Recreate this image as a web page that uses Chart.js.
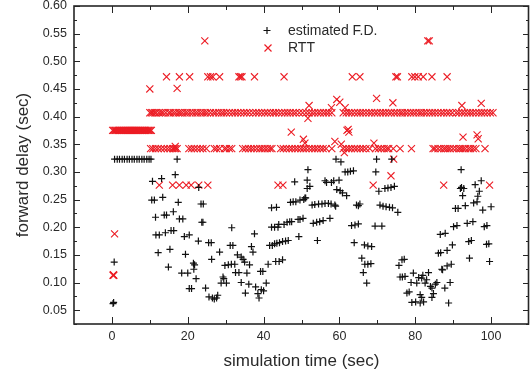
<!DOCTYPE html>
<html>
<head>
<meta charset="utf-8">
<script src="https://cdn.jsdelivr.net/npm/chart.js@4/dist/chart.umd.min.js"></script>
<style>
html, body { margin: 0; padding: 0; background: #fff; overflow: hidden; }
canvas { display: block; }
</style>
</head>
<body>
<canvas id="delayChart" width="530" height="377"></canvas>
<script>
// estimated forward delay (black +)
const fdTime = [
    0.3, 0.45, 0.6,
    0.7, 1.4, 2.0, 2.7, 3.3, 4.0, 4.6, 5.3, 5.9, 6.6, 7.2, 7.9, 8.5, 9.2, 9.8, 10.3,
    10.7, 13.1, 16.7, 17.2, 10.5, 11.2, 13.4, 17.5, 23.5, 24.1, 11.5, 13.8, 14.4, 16.2, 17.8, 18.7, 23.7,
    11.6, 12.5, 14.1, 15.6, 16.3, 19.1, 20.4, 22.8, 12.2, 15.3, 19.4, 21.5, 21.8, 14.9, 21.6, 18.4, 20.0,
    22.2, 20.4, 21.0, 22.9,
    24.7, 25.5, 26.2, 26.3, 24.0, 25.6, 26.5, 27.0, 27.6, 27.9, 28.4, 29.8, 30.7, 31.5, 32.4, 29.3, 29.5,
    28.8, 30.2, 31.6, 31.2, 31.9, 33.1, 34.1, 34.6, 35.0, 36.3, 32.6, 33.5, 35.6, 34.1, 36.1, 35.2, 37.6,
    36.8, 37.2, 39.2, 39.8, 37.9, 39.4, 40.0, 38.5, 38.8,
    40.7, 41.2, 41.6, 42.3, 42.1, 42.9, 43.8, 43.2, 44.1, 45.0, 42.1, 43.4, 42.9, 43.5, 44.2, 45.0, 45.8,
    46.5, 44.0, 45.4, 46.2, 46.9, 47.4, 49.1, 49.6, 50.4, 49.3, 47.1, 47.8, 48.5, 49.6, 50.6, 51.1, 48.2,
    51.5, 51.5, 52.2, 51.7, 50.9,
    52.8, 53.5, 54.5, 55.4, 56.2, 57.1, 57.8, 58.8, 59.0, 53.1, 54.0, 54.8, 55.7, 57.5, 54.2, 56.2, 56.6,
    57.9, 58.5, 59.9, 59.3, 60.2, 60.8, 61.9, 61.5, 62.2, 62.9, 63.7, 59.1, 60.4,
    65.0, 64.5, 65.4, 63.2, 64.1, 65.0, 63.9, 66.6, 67.5, 68.5, 65.9, 66.7, 67.5, 68.3, 66.3, 67.2,
    69.6, 69.8, 73.8, 70.4, 70.7, 71.5, 72.3, 73.2, 74.0, 75.4, 72.0, 72.8, 73.6, 74.5, 69.4, 71.2, 75.7,
    76.5, 77.1, 76.0, 76.6, 77.3, 78.9, 79.5, 77.8, 78.4, 79.1,
    80.4, 80.9, 81.7, 82.6, 81.3, 81.7, 82.2, 80.1, 81.3, 83.5, 84.0, 84.4, 84.8, 84.4, 85.3, 85.7, 86.1,
    86.7, 88.4, 87.2, 87.8, 88.8, 89.2, 89.5, 86.6, 87.9, 89.8, 87.0, 88.4, 82.0, 83.0,
    90.1, 91.0, 90.6, 91.3, 93.2, 92.1, 91.9, 92.8, 92.5, 93.7, 95.2, 94.1, 94.8, 94.3, 95.4, 96.3, 95.8,
    97.4, 96.9, 96.5, 97.8, 100.0, 98.2, 98.9, 98.8, 99.4, 99.6, 92.2
];
const fdDelay = [
    0.062, 0.064, 0.137,
    0.323, 0.323, 0.323, 0.323, 0.323, 0.323, 0.323, 0.323, 0.323, 0.323, 0.323, 0.323, 0.323, 0.323, 0.323, 0.323,
    0.283, 0.288, 0.295, 0.323, 0.249, 0.249, 0.254, 0.245, 0.242, 0.242, 0.218, 0.222, 0.222, 0.228, 0.215, 0.215, 0.209,
    0.186, 0.186, 0.190, 0.194, 0.194, 0.183, 0.186, 0.175, 0.154, 0.160, 0.151, 0.135, 0.132, 0.128, 0.124, 0.117, 0.117,
    0.107, 0.089, 0.089, 0.272,
    0.090, 0.172, 0.172, 0.142, 0.209, 0.074, 0.072, 0.070, 0.072, 0.077, 0.155, 0.131, 0.132, 0.133, 0.133, 0.110, 0.107,
    0.099, 0.099, 0.199, 0.167, 0.167, 0.150, 0.146, 0.142, 0.137, 0.132, 0.118, 0.118, 0.117, 0.100, 0.097, 0.081, 0.188,
    0.165, 0.155, 0.120, 0.120, 0.092, 0.087, 0.085, 0.080, 0.072,
    0.099, 0.133, 0.167, 0.167, 0.200, 0.200, 0.200, 0.138, 0.138, 0.141, 0.235, 0.236, 0.170, 0.171, 0.172, 0.174, 0.175,
    0.176, 0.205, 0.205, 0.209, 0.210, 0.210, 0.214, 0.214, 0.216, 0.183, 0.245, 0.246, 0.246, 0.249, 0.250, 0.253, 0.282,
    0.285, 0.270, 0.274, 0.304, 0.253,
    0.240, 0.241, 0.242, 0.242, 0.243, 0.243, 0.242, 0.240, 0.238, 0.207, 0.209, 0.210, 0.212, 0.216, 0.176, 0.284, 0.281,
    0.281, 0.284, 0.285, 0.268, 0.266, 0.262, 0.257, 0.300, 0.300, 0.301, 0.302, 0.323, 0.318,
    0.239, 0.240, 0.242, 0.203, 0.204, 0.206, 0.172, 0.168, 0.166, 0.165, 0.144, 0.133, 0.133, 0.134, 0.118, 0.099,
    0.300, 0.323, 0.323, 0.265, 0.240, 0.238, 0.237, 0.236, 0.235, 0.227, 0.270, 0.271, 0.272, 0.274, 0.202, 0.202, 0.131,
    0.141, 0.142, 0.110, 0.110, 0.111, 0.100, 0.117, 0.081, 0.083, 0.064,
    0.099, 0.109, 0.108, 0.099, 0.078, 0.073, 0.065, 0.065, 0.063, 0.118, 0.093, 0.090, 0.080, 0.073, 0.097, 0.100, 0.153,
    0.154, 0.158, 0.123, 0.090, 0.063, 0.100, 0.133, 0.187, 0.189, 0.168, 0.124, 0.130, 0.113, 0.105,
    0.201, 0.203, 0.234, 0.234, 0.239, 0.304, 0.270, 0.270, 0.257, 0.207, 0.210, 0.174, 0.176, 0.144, 0.244, 0.246, 0.277,
    0.284, 0.265, 0.256, 0.231, 0.237, 0.201, 0.203, 0.169, 0.170, 0.138, 0.272
];

// RTT (red x): samples sit on a few delay levels, listed per level
const rttStartTime = [
    0.2, 0.5, 0.8, 1.0, 1.3, 1.6, 1.9, 2.1, 2.4, 2.7, 3.0, 3.2, 3.5, 3.8, 4.1, 4.3, 4.6, 4.9, 5.2, 5.4,
    5.7, 6.0, 6.3, 6.5, 6.8, 7.1, 7.4, 7.6, 7.9, 8.2, 8.5, 8.7, 9.0, 9.3, 9.6, 9.8, 10.1, 10.4
];
const rttStartLevel = 0.375;
const rttLevel407 = [
    10.0, 10.4, 10.8, 11.3, 11.7, 12.4, 13.0, 13.5, 14.2, 15.0, 15.5, 16.2, 16.8, 17.5, 18.0, 18.6, 19.3, 19.9,
    20.6, 21.3, 22.0, 22.6, 23.3, 24.0, 24.6, 25.2, 26.0, 26.8, 27.4, 28.2, 28.9, 29.5, 30.2, 31.0, 31.8, 32.5,
    33.2, 34.0, 34.8, 35.5, 36.3, 37.2, 38.0, 38.7, 39.5, 40.3, 41.0, 41.8, 42.6, 43.2, 44.0, 44.8, 45.6, 46.3,
    47.0, 47.8, 48.5, 49.4, 50.3, 51.2, 52.0, 52.8, 53.5, 54.3, 55.0, 55.8, 56.5, 57.2, 58.0, 61.0, 61.8, 62.5,
    63.2, 64.0, 64.8, 65.5, 66.2, 67.0, 67.8, 68.5, 69.3, 70.0, 70.8, 71.5, 72.2, 73.0, 73.7, 74.5, 75.2, 76.0,
    76.6, 77.3, 78.0, 78.8, 79.5, 80.2, 81.0, 81.6, 82.3, 83.0, 83.8, 84.5, 85.2, 86.0, 86.8, 87.5, 88.3, 89.0,
    89.8, 90.8, 91.5, 92.3, 93.0, 93.8, 94.5, 95.2, 96.0, 96.8, 97.5, 98.2, 99.0, 99.8, 100.5
];
const rttLevel342 = [
    10.2, 10.8, 11.5, 12.2, 13.0, 13.8, 14.6, 15.3, 16.0, 16.4, 16.8, 17.2, 20.3, 21.0, 21.7, 22.5, 23.3, 24.0,
    24.9, 27.0, 27.6, 28.4, 29.7, 30.2, 31.0, 31.6, 34.5, 35.2, 36.0, 36.7, 37.4, 38.2, 39.0, 39.6, 40.3, 41.0,
    41.7, 42.2, 44.5, 45.2, 46.0, 46.8, 47.5, 48.3, 49.0, 49.8, 50.5, 51.2, 52.0, 52.8, 53.5, 54.2, 55.0, 55.7,
    56.5, 58.0, 61.0, 61.8, 62.5, 63.2, 64.0, 64.7, 65.5, 66.2, 67.0, 68.0, 69.5, 70.3, 71.0, 71.8, 72.5, 73.0,
    74.2, 76.0, 79.0, 84.7, 85.2, 86.0, 86.8, 87.5, 88.0, 88.6, 89.2, 90.0, 90.8, 91.5, 92.0, 92.6, 93.2, 94.0,
    94.6, 95.3, 96.0, 98.4
];
const rttLevel472 = [
    14.4, 17.8, 20.5, 25.3, 26.0, 26.6, 28.4, 33.5, 33.9, 34.3, 37.6, 45.4, 63.4, 65.4, 74.9, 75.3, 79.1, 79.9,
    80.8, 82.1, 84.4, 88.4
];
const rttLevel276 = [12.5, 16.0, 17.8, 19.6, 20.9, 22.9, 25.3, 43.8, 45.1, 68.9, 87.5, 99.6];
const rttLevel537 = [24.5, 83.3, 83.7];
const rttOtherTime = [
    0.3, 0.4, 0.5, 0.7, 10.0, 17.2, 16.7, 47.3, 50.5, 50.9, 51.7, 52.0, 57.9, 58.8, 59.3, 60.1, 60.5,
    61.3, 61.5, 62.0, 62.3, 62.5, 69.1, 69.8, 73.6, 74.1, 74.3, 92.3, 92.6, 96.3, 96.6, 97.4
];
const rttOtherDelay = [
    0.113, 0.114, 0.113, 0.188, 0.450, 0.451, 0.346, 0.372, 0.359, 0.352, 0.397, 0.420, 0.416, 0.355, 0.431, 0.426, 0.350,
    0.335, 0.416, 0.375, 0.377, 0.372, 0.352, 0.433, 0.293, 0.425, 0.323, 0.420, 0.363, 0.367, 0.360, 0.424
];

const xTickValues = [0, 20, 40, 60, 80, 100];
const xTickLabels = ['0', '20', '40', '60', '80', '100'];
const xMinorValues = [10, 30, 50, 70, 90];
const yTickValues = [0.05, 0.10, 0.15, 0.20, 0.25, 0.30, 0.35, 0.40, 0.45, 0.50, 0.55, 0.60];
const yTickLabels = ['0.05', '0.10', '0.15', '0.20', '0.25', '0.30', '0.35', '0.40', '0.45', '0.50', '0.55', '0.60'];
const yMinorValues = [0.025, 0.075, 0.125, 0.175, 0.225, 0.275, 0.325, 0.375, 0.425, 0.475, 0.525, 0.575];

const seriesNames = ['estimated F.D.', 'RTT'];
const fdColor = '#111111';
const rttColor = '#ec1c24';
const textColor = '#2a2a2a';
const axisColor = '#262626';
const fontFamily = '"Liberation Sans", Arial, Helvetica, sans-serif';

const fdPoints = fdTime.map((t, i) => ({ x: t, y: fdDelay[i] }));
const rttPoints = [];
rttStartTime.forEach(t => rttPoints.push({ x: t, y: rttStartLevel }));
rttLevel276.forEach(t => rttPoints.push({ x: t, y: 0.276 }));
rttLevel342.forEach(t => rttPoints.push({ x: t, y: 0.342 }));
rttLevel407.forEach(t => rttPoints.push({ x: t, y: 0.407 }));
rttLevel472.forEach(t => rttPoints.push({ x: t, y: 0.472 }));
rttLevel537.forEach(t => rttPoints.push({ x: t, y: 0.537 }));
rttOtherTime.forEach((t, i) => rttPoints.push({ x: t, y: rttOtherDelay[i] }));

// frame with inward ticks on all four sides
const framePlugin = {
    id: 'frame',
    afterDatasetsDraw(chart) {
        const { ctx, chartArea: a, scales: { x, y } } = chart;
        ctx.save();
        ctx.strokeStyle = axisColor;
        ctx.lineWidth = 1;
        ctx.beginPath();
        xTickValues.forEach(v => {
            const px = Math.round(x.getPixelForValue(v)) + 0.5;
            ctx.moveTo(px, a.bottom); ctx.lineTo(px, a.bottom - 7);
            ctx.moveTo(px, a.top); ctx.lineTo(px, a.top + 7);
        });
        xMinorValues.forEach(v => {
            const px = Math.round(x.getPixelForValue(v)) + 0.5;
            ctx.moveTo(px, a.bottom); ctx.lineTo(px, a.bottom - 4);
            ctx.moveTo(px, a.top); ctx.lineTo(px, a.top + 4);
        });
        yTickValues.forEach(v => {
            const py = Math.round(y.getPixelForValue(v)) + 0.5;
            ctx.moveTo(a.left, py); ctx.lineTo(a.left + 6, py);
            ctx.moveTo(a.right, py); ctx.lineTo(a.right - 6, py);
        });
        yMinorValues.forEach(v => {
            const py = Math.round(y.getPixelForValue(v)) + 0.5;
            ctx.moveTo(a.left, py); ctx.lineTo(a.left + 3, py);
            ctx.moveTo(a.right, py); ctx.lineTo(a.right - 3, py);
        });
        ctx.stroke();
        ctx.lineWidth = 1.6;
        ctx.strokeRect(a.left, a.top, a.right - a.left - 0.5, a.bottom - a.top);
        ctx.restore();
    }
};

// legend drawn inside the plot, top middle
const legendPlugin = {
    id: 'innerLegend',
    afterDraw(chart) {
        const ctx = chart.ctx;
        ctx.save();
        ctx.lineWidth = 1.2;
        ctx.strokeStyle = fdColor;
        ctx.beginPath();
        ctx.moveTo(263.5, 30.5); ctx.lineTo(270.5, 30.5);
        ctx.moveTo(267, 27); ctx.lineTo(267, 34);
        ctx.stroke();
        ctx.strokeStyle = rttColor;
        ctx.beginPath();
        ctx.moveTo(264.5, 44.5); ctx.lineTo(271.5, 51.5);
        ctx.moveTo(271.5, 44.5); ctx.lineTo(264.5, 51.5);
        ctx.stroke();
        ctx.fillStyle = textColor;
        ctx.font = '14px ' + fontFamily;
        ctx.textBaseline = 'middle';
        ctx.textAlign = 'left';
        ctx.fillText(seriesNames[0], 288, 31);
        ctx.fillText(seriesNames[1], 288, 48.5);
        ctx.restore();
    }
};

const delayChart = new Chart(document.getElementById('delayChart').getContext('2d'), {
    type: 'scatter',
    data: {
        datasets: [
            {
                label: seriesNames[0],
                data: fdPoints,
                pointStyle: 'cross',
                pointRadius: 3.5,
                borderColor: fdColor,
                backgroundColor: fdColor,
                pointBorderWidth: 1.2
            },
            {
                label: seriesNames[1],
                data: rttPoints,
                pointStyle: 'crossRot',
                pointRadius: 5,
                borderColor: rttColor,
                backgroundColor: rttColor,
                pointBorderWidth: 1.1
            }
        ]
    },
    options: {
        responsive: false,
        animation: false,
        layout: { autoPadding: false, padding: { top: 6, right: 1, left: 0, bottom: 0 } },
        plugins: {
            legend: { display: false },
            tooltip: { enabled: false }
        },
        scales: {
            x: {
                type: 'linear',
                min: -10,
                max: 110,
                afterBuildTicks: s => { s.ticks = xTickValues.map(v => ({ value: v })); },
                afterFit: s => { s.height = 53; s.paddingLeft = 0; s.paddingRight = 0; },
                grid: { display: false, drawTicks: false },
                border: { display: false },
                ticks: {
                    padding: 5,
                    maxRotation: 0,
                    autoSkip: false,
                    color: textColor,
                    font: { family: fontFamily, size: 12.5 },
                    callback: (v, i) => xTickLabels[i]
                },
                title: {
                    display: true,
                    text: 'simulation time (sec)',
                    color: textColor,
                    font: { family: fontFamily, size: 17 },
                    padding: { top: 0, bottom: 5 }
                }
            },
            y: {
                type: 'linear',
                min: 0.025,
                max: 0.6,
                afterBuildTicks: s => { s.ticks = yTickValues.map(v => ({ value: v })); },
                afterFit: s => { s.width = 74; s.paddingTop = 0; s.paddingBottom = 0; },
                grid: { display: false, drawTicks: false },
                border: { display: false },
                ticks: {
                    padding: 7,
                    autoSkip: false,
                    color: textColor,
                    font: { family: fontFamily, size: 12.5 },
                    callback: (v, i) => yTickLabels[i]
                },
                title: {
                    display: true,
                    text: 'forward delay (sec)',
                    color: textColor,
                    font: { family: fontFamily, size: 17 },
                    padding: { top: 13, bottom: 0 }
                }
            }
        }
    },
    plugins: [framePlugin, legendPlugin]
});
</script>
</body>
</html>
